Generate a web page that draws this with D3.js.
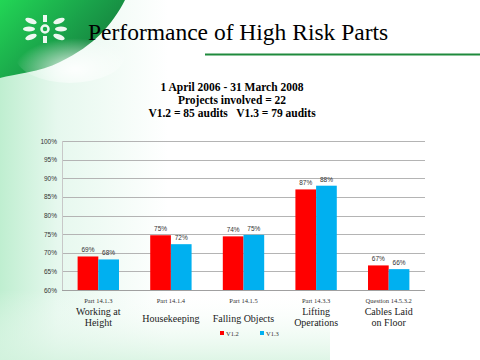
<!DOCTYPE html>
<html><head><meta charset="utf-8">
<script src="https://cdn.jsdelivr.net/npm/d3@7"></script>
<style>html,body{margin:0;padding:0;background:#fff;overflow:hidden}</style>
</head><body>
<script>
const codes = ["Part 14.1.3","Part 14.1.4","Part 14.1.5","Part 14.3.3","Question 14.5.3.2"];
const names = [["Working at","Height"],["Housekeeping"],["Falling Objects"],["Lifting","Operations"],["Cables Laid","on Floor"]];
const seriesNames = ["V1.2","V1.3"];
const v12 = [69, 74.7, 74.4, 87, 66.6];
const v13 = [68.2, 72.3, 74.8, 88, 65.6];
const labels12 = ["69%","75%","74%","87%","67%"];
const labels13 = ["68%","72%","75%","88%","66%"];
const yTicks = [60,65,70,75,80,85,90,95,100];
const colors = ["#FF0000","#00B0F0"];

const W=480,H=360;
const svg=d3.select("body").append("svg").attr("width",W).attr("height",H);
const defs=svg.append("defs");
const g1=defs.append("linearGradient").attr("id","bg").attr("x1","0").attr("x2","1").attr("y1","0").attr("y2","0");
g1.append("stop").attr("offset","0").attr("stop-color","#bfeed0");
g1.append("stop").attr("offset","0.12").attr("stop-color","#e6f8ee");
g1.append("stop").attr("offset","0.35").attr("stop-color","#ffffff");
svg.append("rect").attr("width",W).attr("height",H).attr("fill","url(#bg)");
const g3=defs.append("linearGradient").attr("id","bot").attr("x1","0").attr("x2","0").attr("y1","0").attr("y2","1");
g3.append("stop").attr("offset","0").attr("stop-color","#ffffff").attr("stop-opacity","0");
g3.append("stop").attr("offset","1").attr("stop-color","#d6f3e0").attr("stop-opacity","0.8");
svg.append("rect").attr("y",290).attr("width",330).attr("height",70).attr("fill","url(#bot)");
const g2=defs.append("linearGradient").attr("id","tl").attr("x1","0").attr("x2","1").attr("y1","0").attr("y2","0.6");
g2.append("stop").attr("offset","0").attr("stop-color","#22d655");
g2.append("stop").attr("offset","0.55").attr("stop-color","#1aa24a");
g2.append("stop").attr("offset","1").attr("stop-color","#157a3c");
const g4=defs.append("radialGradient").attr("id","glow").attr("cx","0.55").attr("cy","0.75").attr("r","0.55");
g4.append("stop").attr("offset","0").attr("stop-color","#ffffff").attr("stop-opacity","0.9");
g4.append("stop").attr("offset","1").attr("stop-color","#ffffff").attr("stop-opacity","0");
svg.append("path").attr("d","M0,0 L125,0 C112,25 95,45 60,62 C40,72 15,74 0,78 Z").attr("fill","url(#tl)");
svg.append("ellipse").attr("cx",70).attr("cy",55).attr("rx",55).attr("ry",28).attr("fill","url(#glow)");

// logo
const lg=svg.append("g").attr("transform","translate(45,29)").attr("fill","#ffffff").attr("opacity",0.92);
lg.append("circle").attr("r",3.5).attr("cx",0).attr("cy",0).attr("fill","none").attr("stroke","#fff").attr("stroke-width",2.5);
[[-14,-8],[-16,0],[-14,8],[14,-8],[16,0],[14,8]].forEach(p=>{
  lg.append("ellipse").attr("cx",p[0]).attr("cy",p[1]).attr("rx",6).attr("ry",2.6)
    .attr("transform",`rotate(${p[1]*(p[0]<0?-2.5:2.5)},${p[0]},${p[1]})`);
});
lg.append("rect").attr("x",-2).attr("y",-14).attr("width",4).attr("height",7);
lg.append("rect").attr("x",-2).attr("y",7).attr("width",4).attr("height",7);

svg.append("text").attr("x",88).attr("y",40).attr("font-family","Liberation Serif, serif").attr("font-size",23.5).attr("fill","#000").text("Performance of High Risk Parts");
svg.append("line").attr("x1",205).attr("x2",480).attr("y1",54.5).attr("y2",54.5).attr("stroke","#1f8a3c").attr("stroke-width",2);

const sub=["1 April 2006 - 31 March 2008","Projects involved = 22","V1.2 = 85 audits   V1.3 = 79 audits"];
sub.forEach((t,i)=>svg.append("text").attr("x",232).attr("y",91+i*13).attr("text-anchor","middle")
  .attr("font-family","Liberation Serif, serif").attr("font-weight","bold").attr("font-size",11.5).attr("xml:space","preserve").text(t));

const x=d3.scaleBand().domain(codes).range([62,425]).paddingInner(0.43).paddingOuter(0.215);
const xs=d3.scaleBand().domain(seriesNames).range([0,x.bandwidth()]);
const y=d3.scaleLinear().domain([60,100]).range([290,141]);

const grid=svg.append("g");
yTicks.forEach(t=>grid.append("line").attr("x1",62).attr("x2",425).attr("y1",Math.round(y(t))+0.5).attr("y2",Math.round(y(t))+0.5)
  .attr("stroke",t===60?"#a0a0a0":"#b4b4b4").attr("stroke-width",1));
svg.append("line").attr("x1",62.5).attr("x2",62.5).attr("y1",141).attr("y2",290).attr("stroke","#c8c8c8");

const yAxis=svg.append("g").attr("transform","translate(62,0)").call(d3.axisLeft(y).tickValues(yTicks).tickFormat(d=>d+"%").tickSize(0).tickPadding(5));
yAxis.select(".domain").remove();
yAxis.selectAll("text").attr("font-family","Liberation Sans, Arial, sans-serif").attr("font-size",6.5).attr("fill","#333");

const data=codes.map((c,i)=>({c,vals:[v12[i],v13[i]],labs:[labels12[i],labels13[i]]}));
const grp=svg.append("g").selectAll("g").data(data).join("g").attr("transform",d=>`translate(${x(d.c)},0)`);
grp.selectAll("rect").data(d=>d.vals.map((v,j)=>({v,s:seriesNames[j],j}))).join("rect")
  .attr("x",d=>xs(d.s)).attr("width",xs.bandwidth()).attr("y",d=>y(d.v)).attr("height",d=>y(60)-y(d.v)).attr("fill",d=>colors[d.j]);
grp.selectAll("text.vl").data(d=>d.vals.map((v,j)=>({v,s:seriesNames[j],l:d.labs[j]}))).join("text").attr("class","vl")
  .attr("x",d=>xs(d.s)+xs.bandwidth()/2).attr("y",d=>y(d.v)-4).attr("text-anchor","middle")
  .attr("font-family","Liberation Sans, Arial, sans-serif").attr("font-size",6.5).attr("fill","#333").text(d=>d.l);

const xAxis=svg.append("g").attr("transform","translate(0,290)").call(d3.axisBottom(x).tickSize(0).tickPadding(8));
xAxis.select(".domain").remove();
xAxis.selectAll("text").attr("font-family","Liberation Serif, serif").attr("font-size",6.5).attr("fill","#333");

codes.forEach((c,i)=>{
  const n=names[i];
  const cx=x(c)+x.bandwidth()/2;
  const y0=n.length===1?322:315;
  n.forEach((t,k)=>svg.append("text").attr("x",cx).attr("y",y0+k*11).attr("text-anchor","middle")
    .attr("font-family","Liberation Serif, serif").attr("font-size",10).attr("fill","#222").text(t));
});

const leg=svg.append("g");
seriesNames.forEach((s,i)=>{
  const lx=220+i*40;
  leg.append("rect").attr("x",lx).attr("y",331).attr("width",4).attr("height",4).attr("fill",colors[i]);
  leg.append("text").attr("x",lx+6).attr("y",335.5).attr("font-family","Liberation Serif, serif").attr("font-size",6.5).attr("fill","#333").text(s);
});
</script>
</body></html>
